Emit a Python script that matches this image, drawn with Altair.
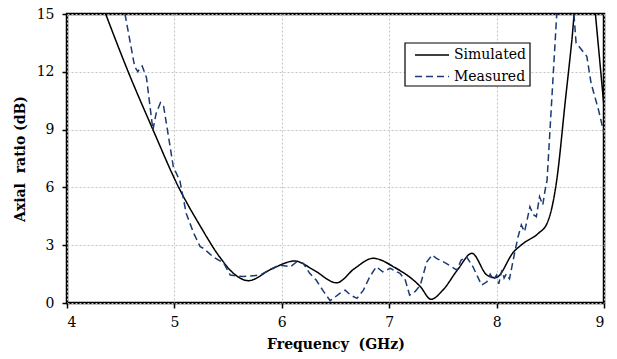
import altair as alt
import pandas as pd

series_names = ["Simulated", "Measured"]
series_colors = ["#000000", "#1b3a73"]
series_dash = [[1, 0], [7, 4]]
x_ticks = [4, 5, 6, 7, 8, 9]
y_ticks = [0, 3, 6, 9, 12, 15]

sim_f = [4.36, 4.57, 4.80, 5.04, 5.24, 5.42, 5.55, 5.69, 5.90, 6.12, 6.30, 6.51, 6.68, 6.85,
         7.05, 7.29, 7.39, 7.50, 7.64, 7.77, 7.91, 7.99, 8.16, 8.25, 8.39, 8.47, 8.51, 8.56,
         8.64, 8.70, 8.82, 8.92, 9.00]
sim_v = [15.0, 12.0, 9.0, 6.0, 4.0, 2.4, 1.54, 1.16, 1.75, 2.18, 1.7, 1.05, 1.8, 2.32,
         1.85, 0.85, 0.19, 0.67, 1.75, 2.58, 1.45, 1.31, 2.66, 3.1, 3.62, 4.14, 4.83, 6.38,
         10.5, 13.6, 21.0, 15.0, 10.2]

meas_f = [4.54, 4.63, 4.66, 4.68, 4.70, 4.74, 4.80, 4.83, 4.87, 4.90, 4.99, 5.04, 5.05, 5.11,
          5.18, 5.24, 5.27, 5.36, 5.46, 5.52, 5.64, 5.80, 5.91, 5.98, 6.08, 6.14, 6.20, 6.26,
          6.32, 6.39, 6.45, 6.48, 6.54, 6.59, 6.64, 6.70, 6.76, 6.82, 6.88, 6.94, 7.01, 7.10,
          7.15, 7.19, 7.24, 7.29, 7.35, 7.40, 7.44, 7.53, 7.63, 7.67, 7.72, 7.78, 7.86, 7.91,
          7.94, 7.97, 8.00, 8.02, 8.05, 8.07, 8.09, 8.12, 8.17, 8.20, 8.23, 8.26, 8.28, 8.31,
          8.34, 8.37, 8.40, 8.43, 8.45, 8.47, 8.56, 8.64, 8.72, 8.74, 8.84, 8.88, 8.95, 9.00]
meas_v = [15.0, 12.27, 12.0, 12.2, 12.3, 11.7, 8.98, 9.84, 10.4, 10.2, 7.07, 6.47, 6.38, 4.65,
          3.62, 2.92, 2.84, 2.4, 2.06, 1.45, 1.37, 1.45, 1.8, 1.97, 1.88, 2.14, 2.06, 1.54,
          1.19, 0.59, 0.12, 0.24, 0.5, 0.67, 0.41, 0.24, 0.67, 1.37, 1.88, 1.62, 1.8, 1.54,
          1.19, 0.41, 0.59, 0.93, 2.14, 2.49, 2.32, 2.06, 1.71, 2.23, 2.4, 1.88, 0.93, 1.1,
          1.5, 1.2, 1.45, 1.0, 1.71, 1.3, 1.5, 1.25, 2.66, 3.44, 4.05, 3.7, 4.2, 5.0,
          4.6, 4.48, 5.52, 5.09, 5.8, 6.38, 15.0, 22.0, 15.0, 13.5, 12.8, 11.4, 10.0, 8.8]

sim_df = pd.DataFrame({"f": sim_f, "v": sim_v, "s": "Simulated", "o": range(len(sim_f))})
meas_df = pd.DataFrame({"f": meas_f, "v": meas_v, "s": "Measured", "o": range(len(meas_f))})

FONT = "DejaVu Serif"

x_enc = alt.X("f:Q", scale=alt.Scale(domain=[4, 9], nice=False),
              axis=alt.Axis(values=x_ticks, title="Frequency\u00a0 (GHz)", format="d"))
y_enc = alt.Y("v:Q", scale=alt.Scale(domain=[0, 15], nice=False),
              axis=alt.Axis(values=y_ticks, title="Axial\u00a0 ratio (dB)", format="d"))

color_enc = alt.Color("s:N", scale=alt.Scale(domain=series_names, range=series_colors), legend=None)
dash_enc = alt.StrokeDash("s:N", scale=alt.Scale(domain=series_names, range=series_dash), legend=None)

sim_line = alt.Chart(sim_df).mark_line(clip=True, strokeWidth=1.5, interpolate="monotone").encode(
    x=x_enc, y=y_enc, order="o:Q", color=color_enc, strokeDash=dash_enc)
meas_line = alt.Chart(meas_df).mark_line(clip=True, strokeWidth=1.5).encode(
    x=x_enc, y=y_enc, order="o:Q", color=color_enc, strokeDash=dash_enc)

# legend box (pixel positions inside the plot area)
leg_x0, leg_x1, leg_y0, leg_y1 = 338, 463, 29, 72
sym_x0, sym_x1, txt_x = 348, 382, 387
row_y = [41, 62.5]

legend_layers = [
    alt.Chart(pd.DataFrame({"a": [0]})).mark_rect(fill="white", stroke="black", strokeWidth=1.2).encode(
        x=alt.value(leg_x0), x2=alt.value(leg_x1), y=alt.value(leg_y0), y2=alt.value(leg_y1))
]
for name, col, dash, yy in zip(series_names, series_colors, series_dash, row_y):
    d = pd.DataFrame({"s": [name]})
    legend_layers.append(
        alt.Chart(d).mark_rule(color=col, strokeWidth=1.5, strokeDash=dash).encode(
            x=alt.value(sym_x0), x2=alt.value(sym_x1), y=alt.value(yy)))
    legend_layers.append(
        alt.Chart(d).mark_text(align="left", baseline="middle", font=FONT, fontSize=14,
                               color="black").encode(
            x=alt.value(txt_x), y=alt.value(yy), text="s:N"))

chart = alt.layer(sim_line, meas_line, *legend_layers).properties(
    width=537, height=289,
    autosize=alt.AutoSizeParams(type="none"),
    padding={"left": 67, "top": 14, "right": 13, "bottom": 56},
    background="white",
).configure(
    font=FONT
).configure_view(
    stroke="black", strokeWidth=2.5
).configure_axis(
    domain=False,
    grid=True, gridColor="#c4c4c4", gridDash=[2, 2], gridWidth=1,
    ticks=True, tickColor="black", tickSize=5, tickWidth=1.5,
    labelFont=FONT, labelFontSize=14, labelColor="black",
    titleFont=FONT, titleFontSize=14, titleFontWeight="bold", titleColor="black",
).configure_axisX(
    labelPadding=7, titlePadding=8
).configure_axisY(
    labelPadding=8, titlePadding=9
)

chart.save("out.html", embed_options={"renderer": "svg", "actions": False})
